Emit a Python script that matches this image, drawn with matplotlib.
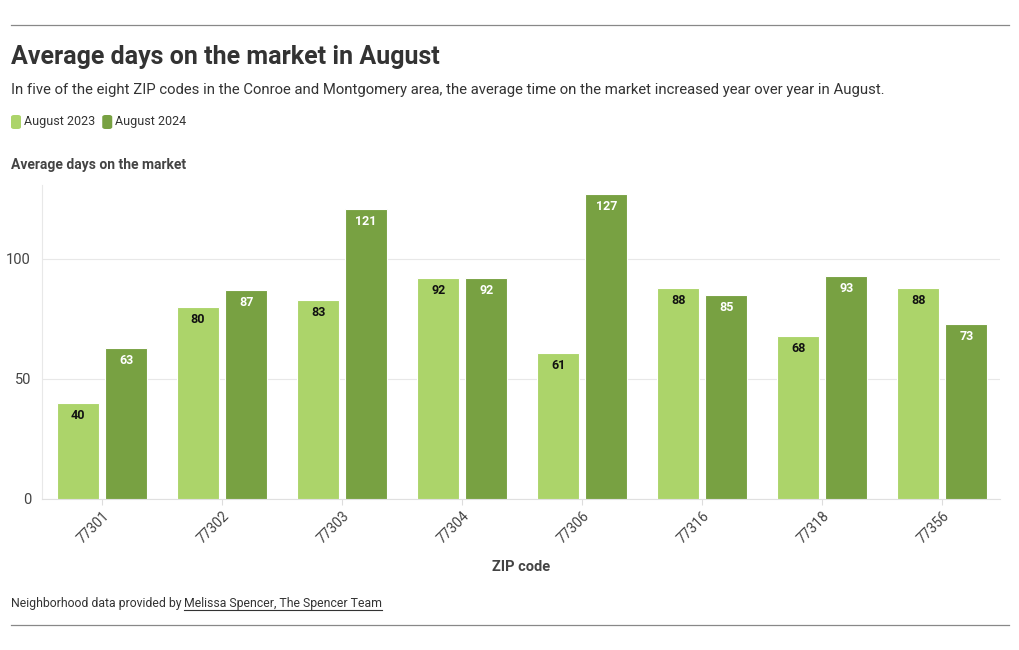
import numpy as np
import matplotlib
matplotlib.use("Agg")
from matplotlib import pyplot as plt
from matplotlib.patches import FancyBboxPatch
from matplotlib.lines import Line2D

plt.rcParams['font.family'] = ['Roboto', 'DejaVu Sans']

# data
zips = ["77301", "77302", "77303", "77304", "77306", "77316", "77318", "77356"]
aug_2023 = [40, 80, 83, 92, 61, 88, 68, 88]
aug_2024 = [63, 87, 121, 92, 127, 85, 93, 73]
series_names = ["August 2023", "August 2024"]

light = "#acd46a"
dark = "#78a142"
W, H = 1020, 650

fig = plt.figure(figsize=(W / 100, H / 100), dpi=100)
fig.patch.set_facecolor("white")

def fx(px):
    return px / W

def fy(py):
    return 1 - py / H

# axes: x 42..1000, y 185..499 (pixels)
ax = fig.add_axes([fx(42), fy(499), fx(1000) - fx(42), (499 - 185) / H])
x = np.arange(len(zips))
bw = 0.35
b1 = ax.bar(x - 0.2, aug_2023, bw, color=light, edgecolor="white", linewidth=0.8, zorder=3)
b2 = ax.bar(x + 0.2, aug_2024, bw, color=dark, edgecolor="white", linewidth=0.8, zorder=3)

for rect, v in zip(b1, aug_2023):
    ax.annotate(str(v), (rect.get_x() + rect.get_width() / 2, v), xytext=(0, -4.5),
                textcoords="offset points", ha="center", va="top",
                fontsize=9, fontweight="bold", color="#111111", zorder=4)
for rect, v in zip(b2, aug_2024):
    ax.annotate(str(v), (rect.get_x() + rect.get_width() / 2, v), xytext=(0, -4.5),
                textcoords="offset points", ha="center", va="top",
                fontsize=9, fontweight="bold", color="white", zorder=4)

ax.set_xlim(-0.5, 7.48)
ax.set_ylim(0, 130.8)
ax.set_yticks([0, 50, 100])
ax.set_xticks(x)
ax.set_xticklabels(zips, rotation=45, ha="right", rotation_mode="anchor")
ax.tick_params(axis="y", length=0, pad=8, labelsize=10.5, labelcolor="#444444")
ax.tick_params(axis="x", length=4, color="#dddddd", pad=3, labelsize=10, labelcolor="#444444")
ax.grid(axis="y", color="#e8e8e8", linewidth=0.8, zorder=0)
for s in ["top", "right"]:
    ax.spines[s].set_visible(False)
ax.spines["left"].set_color("#e8e8e8")
ax.spines["bottom"].set_color("#e0e0e0")

ax.set_xlabel("ZIP code", fontsize=10.5, fontweight="bold", color="#444444", labelpad=10)

# header
fig.add_artist(Line2D([fx(11), fx(1009)], [fy(25), fy(25)], color="#888888", linewidth=0.9))
fig.text(fx(11), fy(57), "Average days on the market in August", fontsize=18, fontweight="bold",
         color="#333333", va="center")
fig.text(fx(11), fy(90), "In five of the eight ZIP codes in the Conroe and Montgomery area, "
         "the average time on the market increased year over year in August.",
         fontsize=10.7, color="#333333", va="center")

# legend
fig.canvas.draw()
rend = fig.canvas.get_renderer()
lx = 11
for name, col in zip(series_names, [light, dark]):
    fig.add_artist(FancyBboxPatch((fx(lx), fy(129)), fx(10), 14 / H,
                                  boxstyle="round,pad=0,rounding_size=0.003",
                                  transform=fig.transFigure, facecolor=col, edgecolor="none"))
    t = fig.text(fx(lx + 13), fy(122), name, fontsize=9, color="#333333", va="center")
    bb = t.get_window_extent(rend)
    lx = bb.x1 + 7

fig.text(fx(11), fy(165), "Average days on the market", fontsize=10, fontweight="bold",
         color="#444444", va="center")

# footer
t1 = fig.text(fx(11), fy(603), "Neighborhood data provided by ", fontsize=8.8,
              color="#333333", va="center")
bb = t1.get_window_extent(rend)
t2 = fig.text(bb.x1 / W, fy(603), "Melissa Spencer, The Spencer Team", fontsize=8.8,
              color="#333333", va="center")
bb2 = t2.get_window_extent(rend)
fig.add_artist(Line2D([bb2.x0 / W, bb2.x1 / W], [fy(610), fy(610)], color="#333333", linewidth=0.8))
fig.add_artist(Line2D([fx(11), fx(1009)], [fy(625), fy(625)], color="#888888", linewidth=0.9))

fig.savefig("out.png", dpi=100, facecolor="white")
